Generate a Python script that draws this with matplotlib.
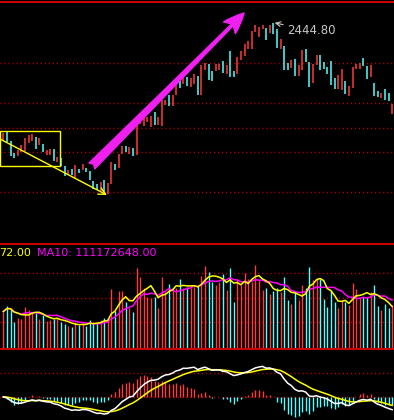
import numpy as np
import pandas as pd
import matplotlib
matplotlib.use('Agg')
import matplotlib.pyplot as plt
from matplotlib.patches import Rectangle

# daily candles (index points)
open_px = [2210, 2226, 2209, 2185, 2179, 2186, 2189, 2205, 2209, 2217,
           2201, 2202, 2181, 2181, 2192, 2167, 2174, 2158, 2140, 2153,
           2135, 2153, 2151, 2155, 2148, 2128, 2123, 2109, 2130, 2102,
           2122, 2163, 2155, 2182, 2198, 2183, 2194, 2180, 2242, 2238,
           2247, 2237, 2267, 2240, 2239, 2280, 2301, 2279, 2301, 2329,
           2323, 2336, 2316, 2323, 2338, 2301, 2350, 2362, 2348, 2349,
           2350, 2368, 2342, 2389, 2349, 2342, 2370, 2379, 2393, 2393,
           2427, 2417, 2433, 2435, 2425, 2444.8, 2432, 2392, 2398, 2365,
           2355, 2372, 2339, 2351, 2392, 2367, 2325, 2360, 2380, 2367,
           2357, 2368, 2335, 2313, 2310, 2328, 2299, 2315, 2353, 2353,
           2375, 2359, 2337, 2325, 2308, 2295, 2312, 2305, 2262]
close_px = [2225, 2206, 2179, 2175, 2191, 2200, 2214, 2220, 2222, 2192,
            2215, 2186, 2190, 2192, 2168, 2176, 2159, 2139, 2150, 2141,
            2160, 2145, 2162, 2147, 2131, 2113, 2111, 2126, 2106, 2125,
            2166, 2151, 2182, 2198, 2187, 2197, 2179, 2242, 2251, 2257,
            2257, 2258, 2241, 2256, 2290, 2290, 2279, 2301, 2323, 2315,
            2338, 2318, 2335, 2342, 2301, 2360, 2365, 2331, 2329, 2363,
            2362, 2345, 2361, 2337, 2337, 2377, 2388, 2402, 2408, 2428,
            2440, 2437, 2441, 2410, 2441, 2423, 2395, 2412, 2351, 2351,
            2370, 2339, 2361, 2390, 2367, 2317, 2363, 2380, 2350, 2353,
            2343, 2320, 2313, 2341, 2352, 2303, 2319, 2357, 2363, 2365,
            2359, 2332, 2360, 2299, 2297, 2305, 2290, 2288, 2283]
# volume in millions of shares
volume_m = [85, 98, 91, 62, 71, 68, 95, 89, 83, 81,
            68, 77, 64, 66, 68, 73, 61, 56, 53, 51,
            62, 54, 58, 53, 65, 58, 58, 65, 71, 70,
            136, 86, 132, 132, 106, 92, 85, 183, 163, 138,
            119, 115, 119, 92, 163, 130, 147, 138, 138, 159,
            139, 141, 138, 141, 145, 166, 188, 175, 153, 144,
            153, 170, 134, 183, 107, 159, 145, 172, 159, 153,
            191, 157, 134, 138, 124, 132, 138, 129, 163, 111,
            101, 132, 111, 145, 138, 185, 157, 160, 159, 114,
            95, 134, 106, 94, 111, 106, 100, 150, 136, 115,
            119, 119, 129, 145, 98, 89, 101, 94, 100]

price_grid = [2364, 2284, 2234, 2186, 2106]
volume_grid = [172, 116, 61]
macd_grid = [0, 32]
high_label = '2444.80'
vol_label_ma5 = '72.00'
vol_label_ma10 = 'MA10: 111172648.00'

RED = '#ff3c3c'
CYAN = '#54ffff'
GRID = '#c00000'
BORDER = '#c80000'
BG = '#000000'

opens = np.array(open_px, dtype=float)
closes = np.array(close_px, dtype=float)
vols = np.array(volume_m, dtype=float)
n = len(closes)
xs = np.arange(n)
up = closes >= opens
colors = np.where(up, RED, CYAN)

# volume moving averages
vol_s = pd.Series(vols)
ma5 = vol_s.rolling(5, min_periods=1).mean()
ma10 = vol_s.rolling(10, min_periods=1).mean()

# MACD (12, 26, 9)
cl = pd.Series(closes)
dif = cl.ewm(span=12, adjust=False).mean() - cl.ewm(span=26, adjust=False).mean()
dea = dif.ewm(span=9, adjust=False).mean()
hist = 2 * (dif - dea)

fig = plt.figure(figsize=(3.94, 4.20), dpi=100, facecolor=BG)
H = 420.0
ax_price = fig.add_axes([0, 1 - 244 / H, 1, 242 / H])
ax_vol = fig.add_axes([0, 1 - 349 / H, 1, 105 / H])
ax_macd = fig.add_axes([0, 0, 1, 71 / H])

xlim = (-3.3 / 3.6, (394 - 3.3) / 3.6)
dotted = dict(color=GRID, lw=1.0, linestyle=(0, (0.8, 2.1)), zorder=1)

for ax in (ax_price, ax_vol, ax_macd):
    ax.set_facecolor(BG)
    ax.set_xlim(*xlim)
    ax.set_xticks([])
    ax.set_yticks([])
    for side in ('left', 'right', 'bottom'):
        ax.spines[side].set_visible(False)
    ax.spines['top'].set_color(BORDER)
    ax.spines['top'].set_linewidth(1.5)

# price panel
ax_price.set_ylim(2002, 2486)
for g in price_grid:
    ax_price.axhline(g, **dotted)
ax_price.vlines(xs, np.minimum(opens, closes), np.maximum(opens, closes),
                colors=colors, lw=1.1, zorder=3)

# box + down-trend arrow on the left
ax_price.add_patch(Rectangle((-0.92, 2158), 16.6, 70.6, fill=False,
                             edgecolor='#ffff00', lw=1.0, zorder=4))
ax_price.annotate('', xy=(28.8, 2100), xytext=(-0.92, 2212),
                  arrowprops=dict(arrowstyle='->,head_length=0.5,head_width=0.25',
                                  color='#ffff00', lw=1.0, shrinkA=0, shrinkB=0),
                  zorder=5)
# big magenta up arrow
ax_price.annotate('', xy=(66.9, 2464), xytext=(24.6, 2158),
                  arrowprops=dict(arrowstyle='fancy,head_length=0.75,head_width=0.6,tail_width=0.3',
                                  color='#f020f0', mutation_scale=20,
                                  shrinkA=0, shrinkB=0),
                  zorder=6)

# peak label
top = np.maximum(opens, closes)
ipk = int(np.argmax(top))
ax_price.annotate(high_label, xy=(ipk, top[ipk]), xytext=(14, -8),
                  textcoords='offset pixels', color='#c8c8c8', fontsize=8.5,
                  va='center', ha='left',
                  arrowprops=dict(arrowstyle='->', color='#c8c8c8', lw=0.8,
                                  shrinkA=1, shrinkB=1))

# volume panel
ax_vol.set_ylim(0, 238)
for g in volume_grid:
    ax_vol.axhline(g, **dotted)
ax_vol.vlines(xs, 0, vols, colors=colors, lw=1.0, zorder=3)
ax_vol.plot(xs, ma10, color='#ff00ff', lw=1.1, zorder=4)
ax_vol.plot(xs, ma5, color='#ffff00', lw=1.1, zorder=5)
ax_vol.text(-0.003, 0.915, vol_label_ma5, transform=ax_vol.transAxes,
            color='#ffff00', fontsize=8, va='center', ha='left')
ax_vol.text(0.094, 0.915, vol_label_ma10, transform=ax_vol.transAxes,
            color='#ff00ff', fontsize=8, va='center', ha='left')

# MACD panel
ax_macd.set_ylim(-31, 64)
for g in macd_grid:
    ax_macd.axhline(g, **dotted)
hist_colors = np.where(hist >= 0, RED, CYAN)
ax_macd.vlines(xs, 0, hist, colors=hist_colors, lw=1.0, zorder=3)
ax_macd.plot(xs, dea, color='#ffff00', lw=1.1, zorder=4)
ax_macd.plot(xs, dif, color='#ffffff', lw=1.1, zorder=5)

fig.savefig('out.png', dpi=100, facecolor=BG)
